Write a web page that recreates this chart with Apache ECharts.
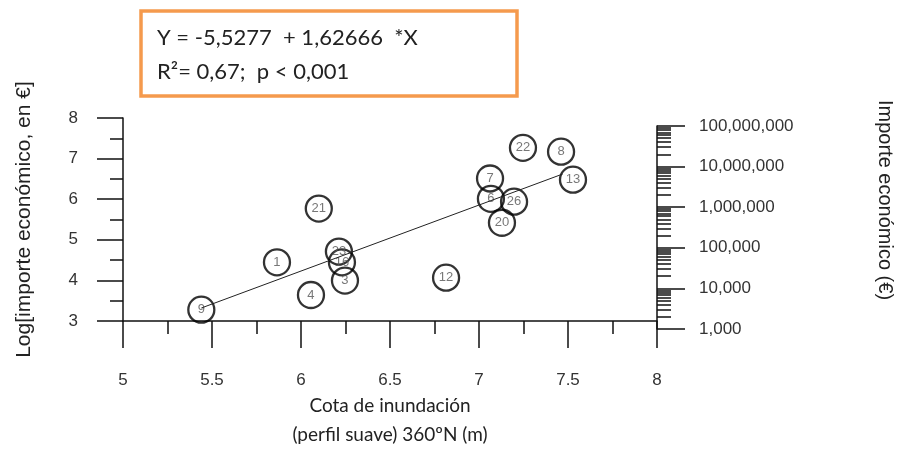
<!DOCTYPE html>
<html>
<head>
<meta charset="utf-8">
<script src="https://cdn.jsdelivr.net/npm/echarts@6/dist/echarts.min.js"></script>
<style>
  html, body { margin: 0; padding: 0; background: #fff; }
  #main { width: 898px; height: 450px; }
</style>
</head>
<body>
<div id="main"></div>
<script>
// point ids, flood height (m) and log10 of the economic cost
const pointIds = ['9', '1', '4', '21', '23', '16', '3', '12', '7', '6', '26', '20', '22', '8', '13'];
const cotaX = [5.44, 5.865, 6.056, 6.10, 6.213, 6.23, 6.247, 6.815, 7.062, 7.067, 7.197, 7.129, 7.247, 7.461, 7.528];
const logImporte = [3.28, 4.445, 3.64, 5.77, 4.71, 4.445, 3.995, 4.066, 6.51, 6.01, 5.94, 5.42, 7.265, 7.17, 6.48];

// fitted line, read at both ends
const fitX = [5.44, 7.47];
const fitY = [3.32, 6.62];

// right axis: decades shown as euros
const decades = [3, 4, 5, 6, 7, 8];
const minorMultipliers = [2, 3, 4, 5, 6, 7, 8, 9];

const minorLogTicks = [];
decades.slice(0, -1).forEach(d => {
  minorMultipliers.forEach(k => minorLogTicks.push(d + Math.log10(k)));
});

const axisFont = "'Liberation Sans', Arial, sans-serif";
const black = '#111';

const myChart = echarts.init(document.getElementById('main'));

myChart.setOption({
  animation: false,
  grid: [
    { left: 123, right: 241, top: 118, bottom: 121 },
    { left: 123, right: 241, top: 126, bottom: 121 }
  ],
  xAxis: [
    {
      type: 'value',
      gridIndex: 0,
      min: 5,
      max: 8,
      interval: 0.5,
      splitLine: { show: false },
      axisLine: { onZero: false, lineStyle: { color: black, width: 1.5 } },
      axisTick: { length: 27, lineStyle: { color: black, width: 1.5 } },
      minorTick: { show: true, splitNumber: 2, length: 13, lineStyle: { color: black, width: 1.5 } },
      axisLabel: { margin: 51, color: '#333', fontSize: 17, fontFamily: axisFont },
      name: 'Cota de inundación\n(perfil suave) 360ºN (m)',
      nameLocation: 'middle',
      nameGap: 70,
      nameTextStyle: { color: '#222', fontSize: 19, fontFamily: 'Lato, sans-serif', lineHeight: 29 }
    },
    {
      type: 'value',
      gridIndex: 1,
      min: 5,
      max: 8,
      show: false
    }
  ],
  yAxis: [
    {
      type: 'value',
      gridIndex: 0,
      min: 3,
      max: 8,
      interval: 1,
      splitLine: { show: false },
      axisLine: { onZero: false, lineStyle: { color: black, width: 1.5 } },
      axisTick: { length: 26, lineStyle: { color: black, width: 1.5 } },
      minorTick: { show: true, splitNumber: 2, length: 13, lineStyle: { color: black, width: 1.5 } },
      axisLabel: { margin: 45, color: '#333', fontSize: 17, fontFamily: axisFont },
      name: 'Log[importe económico, en €]',
      nameLocation: 'middle',
      nameGap: 88,
      nameTextStyle: { color: '#222', fontSize: 21, fontFamily: axisFont }
    },
    {
      type: 'value',
      gridIndex: 1,
      position: 'right',
      min: 3,
      max: 8,
      interval: 1,
      splitLine: { show: false },
      axisLine: { show: true, onZero: false, lineStyle: { color: black, width: 1.5 } },
      axisTick: { length: 28, lineStyle: { color: black, width: 1.5 } },
      axisLabel: {
        margin: 42,
        color: '#333',
        fontSize: 17,
        fontFamily: axisFont,
        formatter(v) {
          return Math.round(Math.pow(10, v)).toLocaleString('en-US');
        }
      }
    },
    {
      type: 'value',
      gridIndex: 1,
      position: 'right',
      min: 3,
      max: 8,
      splitLine: { show: false },
      axisLine: { show: false },
      axisLabel: { show: false },
      axisTick: {
        show: true,
        length: 14,
        customValues: minorLogTicks,
        lineStyle: { color: black, width: 1.5 }
      }
    }
  ],
  graphic: [
    {
      type: 'rect',
      shape: { x: 141, y: 11, width: 376, height: 85 },
      style: { fill: '#fff', stroke: '#f59a4d', lineWidth: 3.5 },
      z: 10
    },
    {
      type: 'text',
      x: 157,
      y: 38,
      style: {
        text: 'Y = -5,5277  + 1,62666  *X',
        fill: '#222',
        font: '22px Lato, sans-serif',
        verticalAlign: 'middle'
      },
      z: 11
    },
    {
      type: 'text',
      x: 157,
      y: 72,
      style: {
        text: 'R²= 0,67;  p < 0,001',
        fill: '#222',
        font: '22px Lato, sans-serif',
        verticalAlign: 'middle'
      },
      z: 11
    },
    {
      type: 'text',
      x: 885,
      y: 200,
      rotation: -Math.PI / 2,
      style: {
        text: 'Importe económico (€)',
        fill: '#222',
        font: "20px 'Liberation Sans', Arial, sans-serif",
        align: 'center',
        verticalAlign: 'middle'
      }
    }
  ],
  series: [
    {
      name: 'ajuste',
      type: 'line',
      xAxisIndex: 0,
      yAxisIndex: 0,
      symbol: 'none',
      silent: true,
      lineStyle: { color: '#222', width: 1 },
      data: fitX.map((x, i) => [x, fitY[i]])
    },
    {
      name: 'puntos',
      type: 'scatter',
      xAxisIndex: 0,
      yAxisIndex: 0,
      symbol: 'circle',
      symbolSize: 26,
      itemStyle: { color: 'rgba(0,0,0,0)', borderColor: '#000', borderWidth: 2.3 },
      label: {
        show: true,
        position: 'inside',
        color: '#555',
        fontSize: 13,
        fontFamily: axisFont,
        formatter(p) {
          return p.value[2];
        }
      },
      data: cotaX.map((x, i) => [x, logImporte[i], pointIds[i]])
    }
  ]
});
</script>
</body>
</html>
